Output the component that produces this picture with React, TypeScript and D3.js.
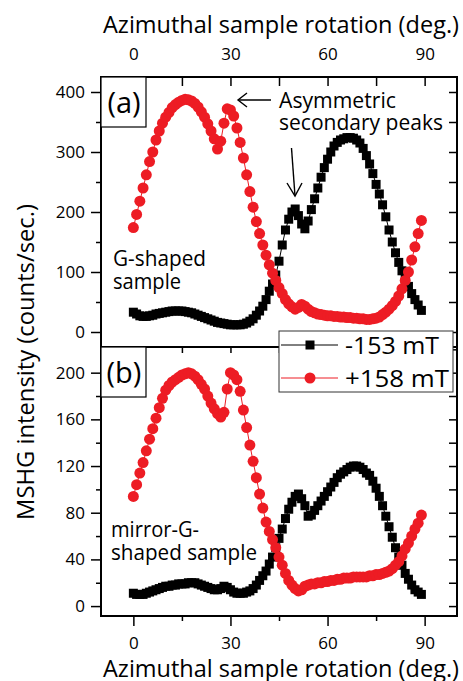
import React, { useEffect, useRef } from "react";
import * as d3 from "d3";

// rotation angle of each measured point (deg.)
const angles = Array.from({ length: 90 }, (_, i) => i);

// (a) G-shaped sample
const topBlack = [
  33, 30, 27, 26, 26, 27, 28, 30, 31, 32,
  33, 34, 35, 35, 35, 35, 34, 33, 32, 30,
  28, 26, 24, 22, 20, 18, 16, 15, 14, 13,
  12, 12, 12, 12, 13, 15, 18, 22, 28, 35,
  43, 54, 68, 80, 95, 118, 145, 170, 188, 200,
  205, 194, 180, 172, 185, 204, 222, 240, 258, 274,
  288, 300, 310, 316, 320, 322, 324, 324, 323, 320,
  315, 306, 294, 280, 264, 246, 230, 212, 192, 170,
  150, 132, 116, 102, 88, 76, 64, 54, 45, 36,
];
const topRed = [
  174, 196, 218, 240, 262, 284, 300, 320, 335, 348,
  358, 366, 374, 379, 383, 386, 388, 387, 385, 381,
  375, 367, 358, 347, 335, 322, 305, 318, 348, 372,
  370, 360, 340, 316, 290, 262, 234, 208, 184, 164,
  145, 128, 112, 98, 86, 74, 64, 54, 47, 42,
  38, 41, 46, 43, 38, 34, 32, 30, 29, 28,
  27, 27, 26, 26, 25, 25, 24, 24, 23, 23,
  22, 22, 21, 21, 22, 23, 25, 29, 33, 38,
  44, 51, 60, 72, 86, 100, 120, 142, 164, 186,
];

// (b) mirror-G-shaped sample
const bottomBlack = [
  11, 10, 10, 10, 11, 12, 13, 14, 15, 16,
  17, 17, 18, 18, 19, 19, 19, 20, 20, 20,
  19, 18, 17, 16, 15, 14, 14, 15, 17, 16,
  14, 12, 11, 11, 11, 12, 13, 15, 18, 22,
  26, 30, 36, 42, 50, 58, 66, 75, 83, 89,
  94, 96, 92, 86, 77, 78, 82, 86, 90, 94,
  98, 102, 106, 110, 113, 115, 117, 119, 120, 120,
  119, 117, 114, 112, 107, 101, 94, 86, 77, 68,
  59, 50, 42, 35, 28, 23, 18, 14, 12, 10,
];
const bottomRed = [
  94, 104, 114, 123, 133, 143, 152, 161, 170, 178,
  185, 189, 192, 194, 196, 198, 199, 200, 199, 197,
  194, 190, 186, 180, 174, 169, 165, 162, 166, 186,
  200, 198, 194, 184, 168, 153, 138, 124, 110, 96,
  84, 72, 64, 57, 50, 42, 35, 28, 22, 18,
  15, 13, 14, 17, 18, 19, 19, 20, 20, 21,
  21, 22, 22, 23, 23, 24, 24, 24, 25, 25,
  25, 25, 25, 26, 26, 27, 27, 28, 29, 30,
  32, 35, 38, 43, 49, 54, 60, 66, 71, 78,
];

const xMajor = [0, 30, 60, 90];
const xMinor = [15, 45, 75];
const xAll = [0, 15, 30, 45, 60, 75, 90];
const topYMajor = [0, 100, 200, 300, 400];
const topYMinor = [50, 150, 250, 350];
const topYAll = [0, 50, 100, 150, 200, 250, 300, 350, 400];
const botYMajor = [0, 40, 80, 120, 160, 200];
const botYMinor = [20, 60, 100, 140, 180];
const botYAll = [0, 20, 40, 60, 80, 100, 120, 140, 160, 180, 200, 220];

const seriesNames = ["-153 mT", "+158 mT"];

const FONT = "'Open Sans', sans-serif";
const RED = "#ED1C24";

const App = () => {
  const ref = useRef<SVGSVGElement>(null);

  useEffect(() => {
    const svg = d3.select(ref.current);
    svg.selectAll("*").remove();

    const x = d3.scaleLinear().domain([-10, 100]).range([101, 457]);
    const yTop = d3.scaleLinear().domain([-25, 425]).range([347, 77]);
    const yBot = d3.scaleLinear().domain([-8.5, 222]).range([616, 347]);

    const styleAxis = (g: any, noLabels = false) => {
      g.select(".domain").remove();
      g.selectAll("line").attr("stroke", "#000").attr("stroke-width", 1.5);
      g.selectAll("text")
        .attr("font-family", FONT)
        .attr("font-size", 17)
        .attr("fill", "#000");
      if (noLabels) g.selectAll("text").remove();
    };

    // data of one panel
    const drawPanel = (y: any, black: number[], red: number[]) => {
      const g = svg.append("g");
      const line = d3
        .line<number>()
        .x((d, i) => x(angles[i]))
        .y((d) => y(d));

      g.append("path")
        .attr("d", line(black))
        .attr("fill", "none")
        .attr("stroke", "#000")
        .attr("stroke-width", 1);
      g.selectAll(".sq")
        .data(black)
        .enter()
        .append("rect")
        .attr("x", (d, i) => x(angles[i]) - 4.5)
        .attr("y", (d) => y(d) - 4.5)
        .attr("width", 9)
        .attr("height", 9)
        .attr("fill", "#000");

      g.append("path")
        .attr("d", line(red))
        .attr("fill", "none")
        .attr("stroke", RED)
        .attr("stroke-width", 1);
      g.selectAll(".ci")
        .data(red)
        .enter()
        .append("circle")
        .attr("cx", (d, i) => x(angles[i]))
        .attr("cy", (d) => y(d))
        .attr("r", 5.5)
        .attr("fill", RED);
    };

    drawPanel(yTop, topBlack, topRed);
    drawPanel(yBot, bottomBlack, bottomRed);

    // ---- axes, top panel
    svg.append("g")
      .attr("transform", "translate(101,0)")
      .call(d3.axisLeft(yTop).tickValues(topYMajor).tickSize(10).tickPadding(6))
      .call((g: any) => styleAxis(g));
    svg.append("g")
      .attr("transform", "translate(101,0)")
      .call(d3.axisLeft(yTop).tickValues(topYMinor).tickSize(5))
      .call((g: any) => styleAxis(g, true));
    svg.append("g")
      .attr("transform", "translate(457,0)")
      .call(d3.axisRight(yTop).tickValues(topYAll).tickSize(-8))
      .call((g: any) => styleAxis(g, true));
    svg.append("g")
      .attr("transform", "translate(0,77)")
      .call(
        d3.axisTop(x)
          .tickValues(xAll)
          .tickSize(-9)
          .tickPadding(17)
          .tickFormat((d: any) => (xMajor.includes(d) ? String(d) : ""))
      )
      .call((g: any) => styleAxis(g));

    // ---- axes, bottom panel
    svg.append("g")
      .attr("transform", "translate(101,0)")
      .call(d3.axisLeft(yBot).tickValues(botYMajor).tickSize(10).tickPadding(6))
      .call((g: any) => styleAxis(g));
    svg.append("g")
      .attr("transform", "translate(101,0)")
      .call(d3.axisLeft(yBot).tickValues(botYMinor).tickSize(5))
      .call((g: any) => styleAxis(g, true));
    svg.append("g")
      .attr("transform", "translate(457,0)")
      .call(d3.axisRight(yBot).tickValues(botYAll).tickSize(-8))
      .call((g: any) => styleAxis(g, true));
    svg.append("g")
      .attr("transform", "translate(0,347)")
      .call(d3.axisBottom(x).tickValues(xAll).tickSize(6))
      .call((g: any) => styleAxis(g, true));
    svg.append("g")
      .attr("transform", "translate(0,616)")
      .call(d3.axisBottom(x).tickValues(xMajor).tickSize(10))
      .call((g: any) => {
        styleAxis(g);
        g.selectAll("text").attr("y", 33).attr("dy", null);
      });
    svg.append("g")
      .attr("transform", "translate(0,616)")
      .call(d3.axisBottom(x).tickValues(xMinor).tickSize(5))
      .call((g: any) => styleAxis(g, true));

    // frames
    [[77, 347], [347, 616]].forEach(([t, b]) => {
      svg.append("rect")
        .attr("x", 101)
        .attr("y", t)
        .attr("width", 356)
        .attr("height", b - t)
        .attr("fill", "none")
        .attr("stroke", "#000")
        .attr("stroke-width", 2);
    });

    // panel labels
    [["(a)", 77], ["(b)", 347]].forEach(([lab, t]: any) => {
      svg.append("rect")
        .attr("x", 101)
        .attr("y", t)
        .attr("width", 45)
        .attr("height", 50)
        .attr("fill", "#fff")
        .attr("stroke", "#000")
        .attr("stroke-width", 1.2);
      svg.append("text")
        .attr("x", 124)
        .attr("y", t + 36)
        .attr("text-anchor", "middle")
        .attr("font-family", FONT)
        .attr("font-size", 29)
        .text(lab);
    });

    // axis titles
    const title = (txt: string, tx: number, ty: number, len: number, rot = false) =>
      svg.append("text")
        .attr("transform", rot ? "rotate(-90)" : null)
        .attr("x", tx)
        .attr("y", ty)
        .attr("text-anchor", "middle")
        .attr("font-family", FONT)
        .attr("font-size", 23)
        .attr("textLength", len)
        .attr("lengthAdjust", "spacingAndGlyphs")
        .text(txt);
    title("Azimuthal sample rotation (deg.)", 281, 33, 356);
    title("Azimuthal sample rotation (deg.)", 281, 677, 356);
    title("MSHG intensity (counts/sec.)", -362, 34, 316, true);

    // annotations
    const note = (txt: string, tx: number, ty: number, len: number) =>
      svg.append("text")
        .attr("x", tx)
        .attr("y", ty)
        .attr("font-family", FONT)
        .attr("font-size", 21)
        .attr("textLength", len)
        .attr("lengthAdjust", "spacingAndGlyphs")
        .text(txt);
    note("Asymmetric", 279, 108, 117);
    note("secondary peaks", 279, 130, 164);
    note("G-shaped", 113, 266, 93);
    note("sample", 113, 289, 68);
    note("mirror-G-", 111, 537, 88);
    note("shaped sample", 111, 560, 146);

    const arrows = [
      { d: "M271,100 L238,100", head: "M247,93 L238,100 L247,107" },
      { d: "M291.5,148 L295,196", head: "M287,183 L295,196 L302,183" },
    ];
    arrows.forEach((a) => {
      svg.append("path").attr("d", a.d).attr("stroke", "#000").attr("stroke-width", 1.4).attr("fill", "none");
      svg.append("path").attr("d", a.head).attr("stroke", "#000").attr("stroke-width", 1.4).attr("fill", "none");
    });

    // legend
    const legend = svg.append("g").attr("transform", "translate(279,331)");
    legend.append("rect")
      .attr("width", 174)
      .attr("height", 61)
      .attr("fill", "#fff")
      .attr("stroke", "#333")
      .attr("stroke-width", 1);
    seriesNames.forEach((name, i) => {
      const cy = 14 + i * 33;
      const col = i === 0 ? "#000" : RED;
      legend.append("line")
        .attr("x1", 2)
        .attr("x2", 59)
        .attr("y1", cy)
        .attr("y2", cy)
        .attr("stroke", col)
        .attr("stroke-width", 1);
      if (i === 0) {
        legend.append("rect").attr("x", 26.5).attr("y", cy - 4.5).attr("width", 9).attr("height", 9).attr("fill", col);
      } else {
        legend.append("circle").attr("cx", 31).attr("cy", cy).attr("r", 5.5).attr("fill", col);
      }
      legend.append("text")
        .attr("x", 66)
        .attr("y", cy + 9)
        .attr("font-family", FONT)
        .attr("font-size", 24)
        .attr("textLength", i === 0 ? 94 : 104)
        .attr("lengthAdjust", "spacingAndGlyphs")
        .text(name);
    });
  }, []);

  return (
    <svg
      ref={ref}
      width={463}
      height={681}
      style={{ position: "absolute", left: 0, top: 0, background: "#fff" }}
    />
  );
};

export default App;
